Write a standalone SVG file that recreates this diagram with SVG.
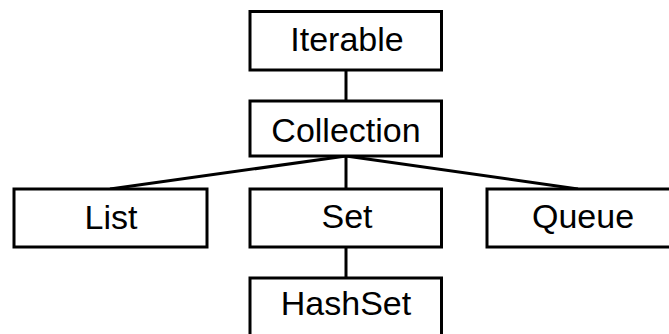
<svg xmlns="http://www.w3.org/2000/svg" width="669" height="334" viewBox="0 0 669 334">
  <style>
    .box { fill: #ffffff; stroke: #000000; stroke-width: 3; }
    .edge { stroke: #000000; stroke-width: 3; fill: none; }
    .label { font-family: "Liberation Sans", Arial, sans-serif; font-size: 34px; fill: #000000; text-anchor: middle; }
  </style>
  <rect x="0" y="0" width="669" height="334" fill="#ffffff"/>
  <g id="connectors">
    <line class="edge" x1="346" y1="70" x2="346" y2="101"/>
    <line class="edge" x1="346" y1="156" x2="110" y2="189"/>
    <line class="edge" x1="346" y1="156" x2="346" y2="189"/>
    <line class="edge" x1="346" y1="156" x2="578" y2="189"/>
    <line class="edge" x1="346" y1="247" x2="346" y2="278"/>
  </g>
  <g id="iterable">
    <rect class="box" x="250" y="11.5" width="191.5" height="58.5"/>
    <text class="label" x="347" y="51">Iterable</text>
  </g>
  <g id="collection">
    <rect class="box" x="250" y="101" width="191.5" height="55"/>
    <text class="label" x="346" y="142">Collection</text>
  </g>
  <g id="list">
    <rect class="box" x="14" y="189" width="193" height="58"/>
    <text class="label" x="111" y="229">List</text>
  </g>
  <g id="set">
    <rect class="box" x="250" y="189" width="191.5" height="58"/>
    <text class="label" x="347" y="228">Set</text>
  </g>
  <g id="queue">
    <rect class="box" x="487" y="189" width="190" height="58"/>
    <text class="label" x="583" y="228">Queue</text>
  </g>
  <g id="hashset">
    <rect class="box" x="250" y="278" width="191.5" height="60"/>
    <text class="label" x="346" y="315">HashSet</text>
  </g>
</svg>
